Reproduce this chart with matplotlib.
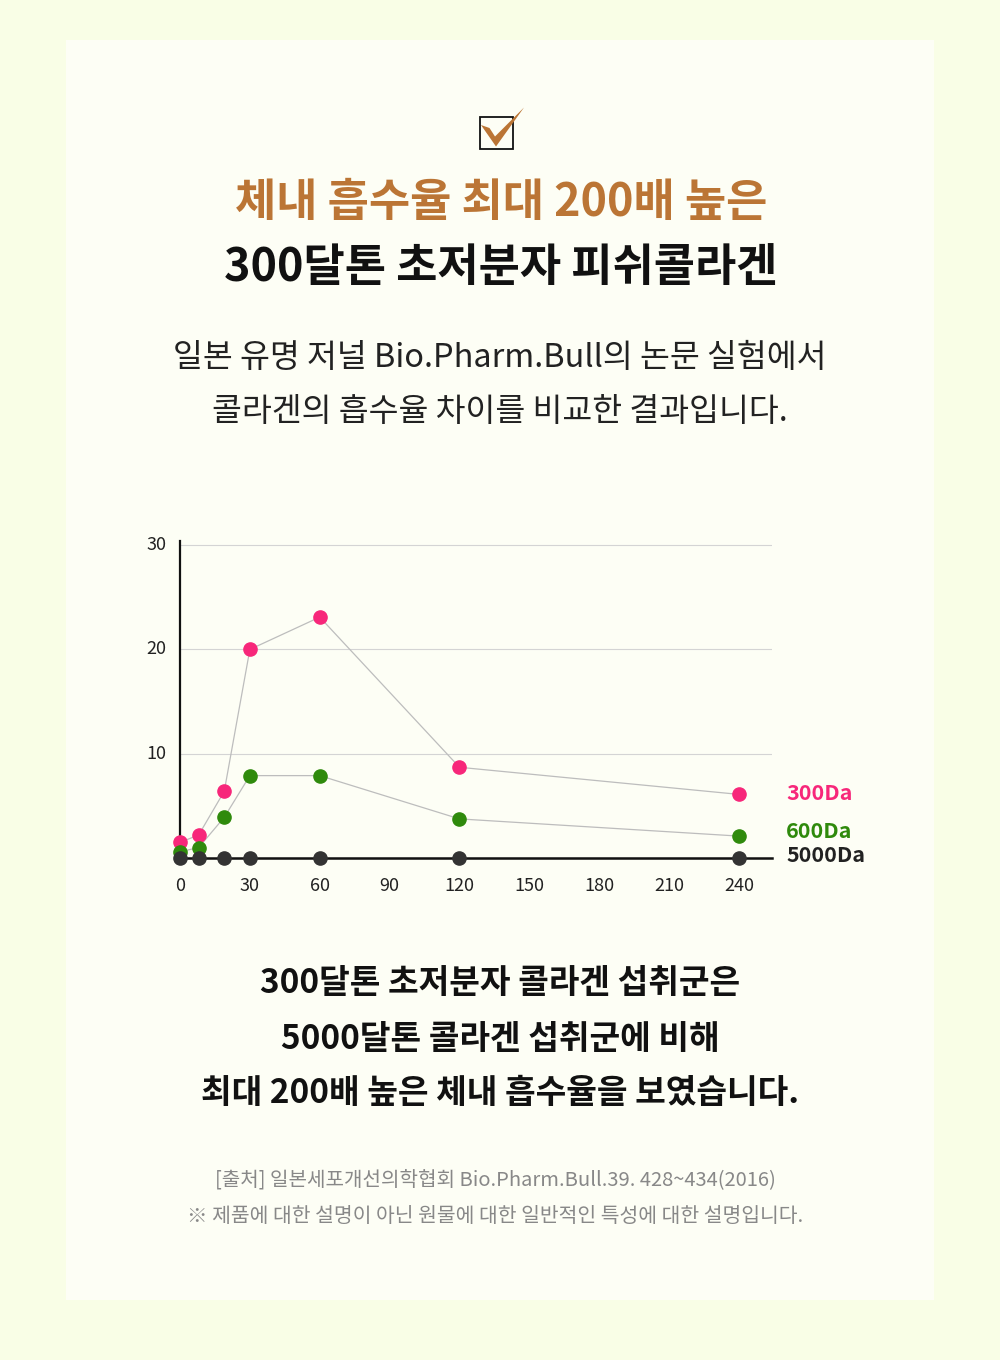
import matplotlib
matplotlib.use("Agg")
import matplotlib.pyplot as plt
from matplotlib.patches import Rectangle, Polygon

plt.rcParams['font.family'] = ['Noto Sans CJK KR', 'DejaVu Sans']

# ---- data ----
time_min = [0, 8, 19, 30, 60, 120, 240]
da300 = [1.5, 2.2, 6.4, 20.0, 23.1, 8.7, 6.1]
da600 = [0.6, 1.0, 3.9, 7.9, 7.9, 3.75, 2.1]
da5000 = [0, 0, 0, 0, 0, 0, 0]
series_names = ['300Da', '600Da', '5000Da']
series_colors = ['#f7277a', '#2f8a0c', '#222222']
marker_colors = ['#f7277a', '#2f8a0c', '#333333']
xticks = [0, 30, 60, 90, 120, 150, 180, 210, 240]
yticks = [10, 20, 30]

title1 = '체내 흡수율 최대 200배 높은'
title2 = '300달톤 초저분자 피쉬콜라겐'
sub1 = '일본 유명 저널 Bio.Pharm.Bull의 논문 실험에서'
sub2 = '콜라겐의 흡수율 차이를 비교한 결과입니다.'
body = ['300달톤 초저분자 콜라겐 섭취군은',
        '5000달톤 콜라겐 섭취군에 비해',
        '최대 200배 높은 체내 흡수율을 보였습니다.']
notes = ['[출처] 일본세포개선의학협회 Bio.Pharm.Bull.39. 428~434(2016)',
         '※ 제품에 대한 설명이 아닌 원물에 대한 일반적인 특성에 대한 설명입니다.']

W, H = 1000, 1360
fig = plt.figure(figsize=(W / 100, H / 100), dpi=100)
fig.patch.set_facecolor('#f9fee6')

bg = fig.add_axes([0, 0, 1, 1])
bg.set_xlim(0, W)
bg.set_ylim(H, 0)
bg.axis('off')
bg.add_patch(Rectangle((66, 40), 868, 1260, facecolor='#fdfef5', edgecolor='none'))

# check icon
bg.add_patch(Rectangle((480, 117), 33, 32, facecolor='none', edgecolor='#111111', lw=1.3))
bg.add_patch(Polygon([(481, 125), (489.5, 128), (495, 136.5), (524, 107.5), (496, 146.5)],
                     closed=True, facecolor='#bb7535', edgecolor='none'))

def T(x, y, s, size, color='#111111', weight='normal', ha='center'):
    bg.text(x, y, s, fontsize=size, color=color, fontweight=weight, ha=ha, va='center')

T(501, 203, title1, 32.3, color='#bb7535', weight='heavy')
T(501, 268, title2, 32.3, color='#111111', weight='heavy')
T(500, 358, sub1, 23.4, color='#222222')
T(500, 412, sub2, 23.4, color='#222222')
for i, line in enumerate(body):
    T(500, 984 + 55 * i, line, 24, color='#111111', weight='bold')
T(495, 1180, notes[0], 14.5, color='#888888')
T(495, 1216, notes[1], 14.7, color='#888888')

# chart
x0, x1 = 180, 772
yb, yt = 858, 541
ax = fig.add_axes([x0 / W, 1 - yb / H, (x1 - x0) / W, (yb - yt) / H])
ax.set_facecolor('none')
ax.set_xlim(0, 254.2)
ax.set_ylim(0, 30.4)
for s in ['top', 'right']:
    ax.spines[s].set_visible(False)
ax.spines['left'].set_linewidth(1.6)
ax.spines['bottom'].set_linewidth(1.8)
ax.spines['left'].set_color('#111111')
ax.spines['bottom'].set_color('#111111')
ax.set_yticks(yticks)
ax.set_xticks(xticks)
ax.tick_params(length=0, labelsize=13, colors='#222222')
ax.tick_params(axis='x', pad=14)
ax.tick_params(axis='y', pad=10)
for lbl, dy in zip(ax.get_yticklabels(), [0, 0, 0]):
    lbl.set_va('center')
for g in yticks:
    ax.axhline(g, color='#d4d4d4', lw=0.8, zorder=0)

for vals, col in zip([da300, da600, da5000], marker_colors):
    ax.plot(time_min, vals, color='#bdbdbd', lw=0.9, zorder=2, clip_on=False)
    ax.plot(time_min, vals, ls='none', marker='o', ms=9.5, color=col, zorder=3, clip_on=False)

label_y = [794, 832, 856]
for name, col, yy in zip(series_names, series_colors, label_y):
    T(786, yy, name, 15.5, color=col, weight='bold', ha='left')

fig.savefig('out.png', dpi=100, facecolor=fig.get_facecolor())
